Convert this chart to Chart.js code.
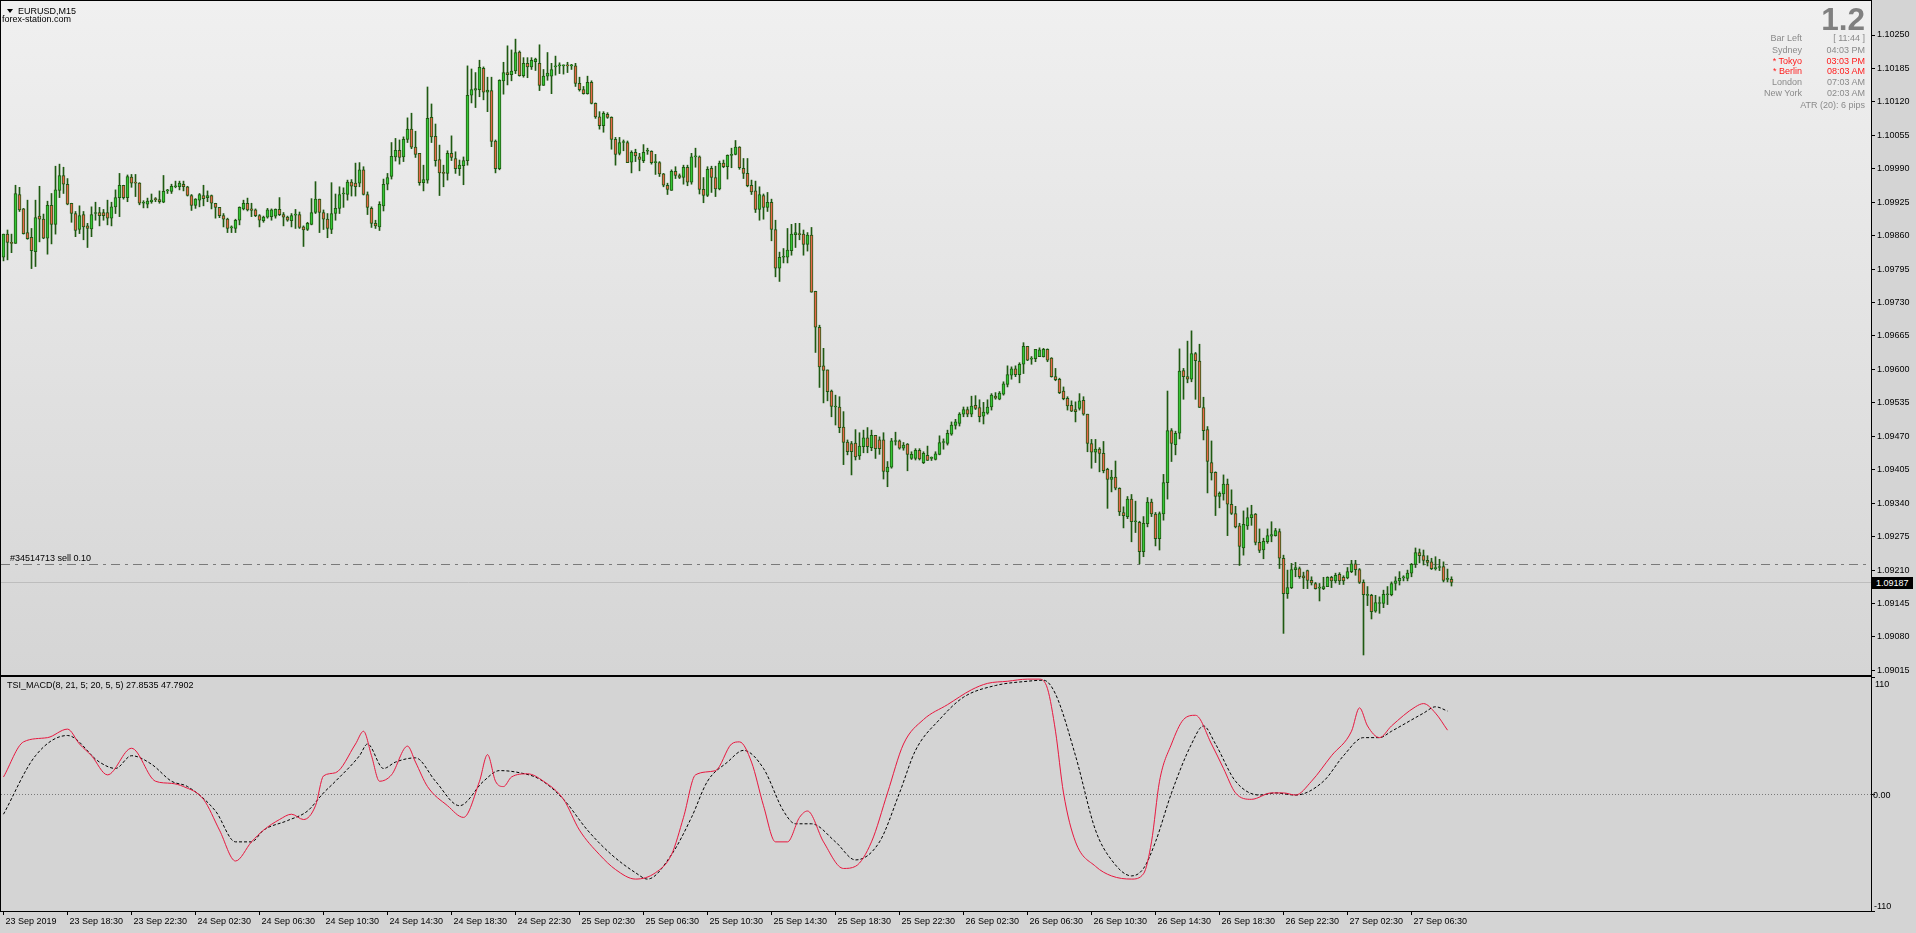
<!DOCTYPE html>
<html><head><meta charset="utf-8">
<script src="https://cdn.jsdelivr.net/npm/chart.js@4.4.1/dist/chart.umd.min.js"></script>
<style>
html,body{margin:0;padding:0;background:#d4d4d4;width:1916px;height:933px;overflow:hidden;font-family:"Liberation Sans",Arial,sans-serif;}
canvas{position:absolute;left:0;display:block;}
#main{top:0;}
#sub{top:676px;}
.t{position:absolute;font-size:9px;line-height:12px;height:12px;white-space:nowrap;color:#000;}
.r{text-align:right;}
.g{color:#8a8a8a;}
.red{color:#ff1a1a;}
</style></head><body>
<canvas id="main" width="1916" height="676" style="width:1916px;height:676px"></canvas>
<canvas id="sub" width="1916" height="257" style="width:1916px;height:257px"></canvas>

<div style="position:absolute;left:7px;top:9px;width:0;height:0;border-left:3px solid transparent;border-right:3px solid transparent;border-top:4px solid #000;"></div>
<div class="t" style="left:18px;top:5px;">EURUSD,M15</div>
<div class="t" style="left:2px;top:12.5px;">forex-station.com</div>
<div class="t" style="left:10px;top:552px;">#34514713 sell 0.10</div>
<div class="t" style="left:7px;top:679px;">TSI_MACD(8, 21, 5; 20, 5, 5) 27.8535 47.7902</div>

<div class="t r" style="right:51px;top:2.5px;font-size:31.5px;line-height:32px;height:32px;font-weight:bold;color:#808080;">1.2</div>
<div class="t r g" style="right:114px;top:32.3px;">Bar Left</div>
<div class="t r g" style="right:51px;top:32.3px;">[ 11:44 ]</div>
<div class="t r g" style="right:114px;top:43.5px;">Sydney</div>
<div class="t r g" style="right:51px;top:43.5px;">04:03 PM</div>
<div class="t r red" style="right:114px;top:54.7px;">* Tokyo</div>
<div class="t r red" style="right:51px;top:54.7px;">03:03 PM</div>
<div class="t r red" style="right:114px;top:65.3px;">* Berlin</div>
<div class="t r red" style="right:51px;top:65.3px;">08:03 AM</div>
<div class="t r g" style="right:114px;top:76.3px;">London</div>
<div class="t r g" style="right:51px;top:76.3px;">07:03 AM</div>
<div class="t r g" style="right:114px;top:87.3px;">New York</div>
<div class="t r g" style="right:51px;top:87.3px;">02:03 AM</div>
<div class="t r g" style="right:51px;top:99px;">ATR (20): 6 pips</div>

<div class="t" style="left:1872px;top:577px;width:37px;height:12px;background:#000;color:#fff;padding-left:4px;">1.09187</div>
<div class="t" style="left:1875px;top:678px;">110</div>
<div class="t" style="left:1873px;top:789px;">0.00</div>
<div class="t" style="left:1874px;top:900px;">-110</div>

<script>
// ---------------- DATA ----------------
const opens = [
1.09818,1.09863,1.09847,1.09845,1.09940,1.09912,1.09866,1.09857,1.09829,1.09898,
1.09892,1.09855,1.09919,1.09882,1.09948,1.09977,1.09960,1.09923,1.09903,1.09872,
1.09901,1.09879,1.09873,1.09903,1.09905,1.09905,1.09905,1.09894,1.09916,1.09934,
1.09958,1.09934,1.09974,1.09964,1.09962,1.09923,1.09921,1.09926,1.09931,1.09930,
1.09925,1.09947,1.09946,1.09955,1.09955,1.09960,1.09955,1.09938,1.09919,1.09929,
1.09938,1.09934,1.09938,1.09923,1.09915,1.09899,1.09892,1.09875,1.09874,1.09890,
1.09912,1.09923,1.09912,1.09910,1.09899,1.09889,1.09896,1.09897,1.09898,1.09911,
1.09901,1.09896,1.09889,1.09900,1.09901,1.09877,1.09872,1.09882,1.09905,1.09931,
1.09905,1.09892,1.09872,1.09903,1.09913,1.09941,1.09940,1.09964,1.09962,1.09962,
1.09988,1.09940,1.09913,1.09884,1.09877,1.09918,1.09960,1.09975,1.10013,1.10026,
1.10013,1.10047,1.10067,1.10032,1.10020,1.09963,1.09968,1.10090,1.10053,1.10008,
1.09983,1.09981,1.10020,1.10010,1.09990,1.09996,1.10006,1.10133,1.10143,1.10144,
1.10185,1.10139,1.10142,1.10044,1.09990,1.10161,1.10177,1.10173,1.10180,1.10217,
1.10171,1.10195,1.10188,1.10198,1.10195,1.10152,1.10170,1.10170,1.10188,1.10190,
1.10190,1.10191,1.10190,1.10190,1.10156,1.10144,1.10136,1.10158,1.10117,1.10091,
1.10074,1.10096,1.10090,1.10047,1.10020,1.10041,1.10041,1.10003,1.10022,1.10013,
1.10006,1.10024,1.10024,1.10002,1.10002,1.09980,1.09958,1.09948,1.09985,1.09977,
1.09973,1.09993,1.09964,1.10013,1.10013,1.09950,1.09938,1.09991,1.09973,1.09951,
1.10001,1.09994,1.10016,1.10018,1.10032,1.09991,1.09981,1.09958,1.09947,1.09911,
1.09938,1.09915,1.09925,1.09872,1.09797,1.09818,1.09818,1.09831,1.09862,1.09864,
1.09863,1.09843,1.09861,1.09752,1.09682,1.09607,1.09599,1.09558,1.09527,1.09527,
1.09488,1.09459,1.09456,1.09457,1.09432,1.09450,1.09467,1.09448,1.09472,1.09463,
1.09463,1.09401,1.09410,1.09460,1.09461,1.09447,1.09455,1.09427,1.09427,1.09443,
1.09419,1.09433,1.09427,1.09425,1.09435,1.09458,1.09456,1.09474,1.09491,1.09495,
1.09513,1.09522,1.09513,1.09530,1.09526,1.09509,1.09515,1.09527,1.09548,1.09542,
1.09552,1.09571,1.09589,1.09601,1.09590,1.09610,1.09645,1.09620,1.09621,1.09625,
1.09625,1.09639,1.09622,1.09586,1.09581,1.09558,1.09544,1.09530,1.09522,1.09524,
1.09540,1.09513,1.09456,1.09439,1.09445,1.09437,1.09406,1.09386,1.09391,1.09369,
1.09322,1.09314,1.09348,1.09304,1.09303,1.09246,1.09300,1.09342,1.09319,1.09271,
1.09319,1.09380,1.09481,1.09454,1.09476,1.09598,1.09586,1.09581,1.09631,1.09616,
1.09526,1.09483,1.09419,1.09400,1.09353,1.09358,1.09377,1.09338,1.09320,1.09296,
1.09253,1.09296,1.09312,1.09319,1.09264,1.09249,1.09265,1.09276,1.09277,1.09285,
1.09233,1.09164,1.09176,1.09211,1.09213,1.09199,1.09209,1.09190,1.09184,1.09175,
1.09174,1.09178,1.09196,1.09189,1.09202,1.09196,1.09195,1.09207,1.09222,1.09211,
1.09186,1.09161,1.09161,1.09130,1.09145,1.09145,1.09162,1.09162,1.09184,1.09189,
1.09195,1.09194,1.09204,1.09221,1.09244,1.09238,1.09229,1.09226,1.09213,1.09215,
1.09217,1.09192,1.09192];
const highs = [
1.09863,1.09871,1.09863,1.09958,1.09954,1.09913,1.09929,1.09874,1.09929,1.09956,
1.09902,1.09927,1.09942,1.09995,1.09999,1.09993,1.09971,1.09923,1.09907,1.09918,
1.09907,1.09884,1.09916,1.09925,1.09915,1.09911,1.09929,1.09925,1.09949,1.09981,
1.09958,1.09978,1.09979,1.09979,1.09963,1.09928,1.09933,1.09941,1.09934,1.09947,
1.09977,1.09950,1.09960,1.09966,1.09966,1.09966,1.09956,1.09940,1.09932,1.09942,
1.09958,1.09947,1.09939,1.09923,1.09915,1.09903,1.09894,1.09879,1.09892,1.09916,
1.09929,1.09933,1.09923,1.09912,1.09901,1.09898,1.09913,1.09912,1.09912,1.09934,
1.09905,1.09898,1.09903,1.09911,1.09906,1.09879,1.09886,1.09932,1.09965,1.09931,
1.09910,1.09903,1.09963,1.09941,1.09955,1.09953,1.09968,1.09969,1.10001,1.10002,
1.09994,1.09945,1.09916,1.09890,1.09926,1.09970,1.09981,1.10041,1.10049,1.10046,
1.10052,1.10089,1.10098,1.10063,1.10020,1.09997,1.10149,1.10116,1.10077,1.10036,
1.09997,1.10025,1.10054,1.10023,1.10007,1.10013,1.10190,1.10184,1.10177,1.10201,
1.10188,1.10168,1.10168,1.10046,1.10163,1.10197,1.10229,1.10221,1.10242,1.10219,
1.10206,1.10206,1.10206,1.10205,1.10231,1.10183,1.10216,1.10195,1.10209,1.10196,
1.10192,1.10197,1.10193,1.10195,1.10168,1.10150,1.10170,1.10161,1.10118,1.10101,
1.10101,1.10099,1.10091,1.10051,1.10051,1.10046,1.10044,1.10025,1.10028,1.10020,
1.10037,1.10030,1.10025,1.10018,1.10004,1.09981,1.09962,1.09988,1.09994,1.09980,
1.09997,1.09997,1.10020,1.10030,1.10015,1.09973,1.09994,1.09995,1.09995,1.10005,
1.10007,1.10017,1.10030,1.10045,1.10033,1.10010,1.10010,1.09968,1.09966,1.09955,
1.09941,1.09944,1.09931,1.09890,1.09828,1.09835,1.09874,1.09882,1.09884,1.09884,
1.09871,1.09866,1.09876,1.09752,1.09686,1.09641,1.09599,1.09560,1.09550,1.09547,
1.09518,1.09463,1.09460,1.09483,1.09477,1.09482,1.09487,1.09482,1.09472,1.09469,
1.09477,1.09421,1.09466,1.09478,1.09463,1.09458,1.09456,1.09440,1.09446,1.09446,
1.09440,1.09451,1.09430,1.09440,1.09471,1.09465,1.09482,1.09498,1.09503,1.09516,
1.09527,1.09527,1.09548,1.09549,1.09541,1.09536,1.09541,1.09553,1.09555,1.09557,
1.09576,1.09607,1.09605,1.09607,1.09613,1.09652,1.09645,1.09625,1.09639,1.09642,
1.09641,1.09640,1.09623,1.09602,1.09583,1.09566,1.09547,1.09539,1.09537,1.09553,
1.09547,1.09513,1.09464,1.09464,1.09448,1.09460,1.09408,1.09404,1.09422,1.09370,
1.09333,1.09353,1.09357,1.09344,1.09305,1.09314,1.09351,1.09348,1.09322,1.09323,
1.09396,1.09558,1.09485,1.09480,1.09640,1.09602,1.09655,1.09675,1.09633,1.09649,
1.09546,1.09489,1.09461,1.09401,1.09362,1.09395,1.09387,1.09366,1.09334,1.09301,
1.09325,1.09331,1.09336,1.09320,1.09290,1.09272,1.09290,1.09304,1.09291,1.09290,
1.09239,1.09210,1.09223,1.09225,1.09216,1.09206,1.09210,1.09197,1.09186,1.09184,
1.09196,1.09197,1.09198,1.09204,1.09205,1.09199,1.09215,1.09229,1.09229,1.09213,
1.09191,1.09178,1.09163,1.09161,1.09158,1.09171,1.09178,1.09187,1.09197,1.09207,
1.09199,1.09210,1.09223,1.09253,1.09251,1.09249,1.09238,1.09233,1.09236,1.09231,
1.09226,1.09212,1.09197];
const lows = [
1.09811,1.09813,1.09827,1.09845,1.09907,1.09863,1.09853,1.09796,1.09800,1.09848,
1.09854,1.09824,1.09844,1.09863,1.09934,1.09942,1.09920,1.09886,1.09858,1.09864,
1.09852,1.09837,1.09858,1.09890,1.09879,1.09890,1.09881,1.09879,1.09903,1.09897,
1.09931,1.09926,1.09954,1.09936,1.09920,1.09914,1.09914,1.09923,1.09926,1.09923,
1.09924,1.09942,1.09942,1.09953,1.09949,1.09947,1.09937,1.09909,1.09913,1.09916,
1.09918,1.09926,1.09912,1.09894,1.09895,1.09877,1.09866,1.09866,1.09866,1.09881,
1.09910,1.09908,1.09897,1.09897,1.09877,1.09886,1.09894,1.09890,1.09894,1.09899,
1.09879,1.09888,1.09877,1.09874,1.09874,1.09839,1.09870,1.09881,1.09903,1.09866,
1.09872,1.09856,1.09864,1.09890,1.09903,1.09915,1.09929,1.09937,1.09937,1.09955,
1.09939,1.09901,1.09876,1.09874,1.09870,1.09908,1.09949,1.09970,1.10005,1.09999,
1.10004,1.10041,1.10029,1.10012,1.09958,1.09947,1.09962,1.10041,1.09995,1.09938,
1.09955,1.09968,1.10006,1.09981,1.09977,1.09959,1.09997,1.10118,1.10109,1.10130,
1.10124,1.10101,1.10033,1.09982,1.09988,1.10135,1.10153,1.10161,1.10175,1.10170,
1.10168,1.10167,1.10183,1.10181,1.10142,1.10152,1.10162,1.10136,1.10172,1.10175,
1.10174,1.10177,1.10183,1.10150,1.10141,1.10135,1.10135,1.10116,1.10088,1.10067,
1.10061,1.10088,1.10028,1.09997,1.10017,1.10025,1.10002,1.09982,1.10004,1.09986,
1.10002,1.10018,1.09999,1.09979,1.09975,1.09955,1.09940,1.09948,1.09971,1.09971,
1.09960,1.09957,1.09960,1.09993,1.09941,1.09924,1.09936,1.09944,1.09936,1.09949,
1.09992,1.09970,1.09992,1.10017,1.09989,1.09971,1.09955,1.09940,1.09905,1.09890,
1.09892,1.09907,1.09850,1.09780,1.09771,1.09807,1.09807,1.09822,1.09837,1.09852,
1.09822,1.09830,1.09750,1.09633,1.09565,1.09535,1.09539,1.09508,1.09492,1.09477,
1.09415,1.09434,1.09395,1.09424,1.09425,1.09438,1.09438,1.09442,1.09427,1.09435,
1.09387,1.09372,1.09408,1.09453,1.09445,1.09443,1.09403,1.09425,1.09424,1.09424,
1.09417,1.09423,1.09423,1.09424,1.09434,1.09445,1.09453,1.09472,1.09484,1.09490,
1.09508,1.09508,1.09508,1.09522,1.09498,1.09494,1.09513,1.09521,1.09542,1.09541,
1.09550,1.09566,1.09581,1.09586,1.09574,1.09592,1.09617,1.09610,1.09615,1.09625,
1.09624,1.09615,1.09585,1.09578,1.09553,1.09541,1.09521,1.09518,1.09498,1.09521,
1.09511,1.09440,1.09408,1.09419,1.09401,1.09399,1.09330,1.09362,1.09366,1.09316,
1.09292,1.09310,1.09265,1.09283,1.09222,1.09236,1.09294,1.09314,1.09257,1.09249,
1.09307,1.09348,1.09421,1.09434,1.09465,1.09542,1.09574,1.09576,1.09542,1.09526,
1.09463,1.09360,1.09385,1.09316,1.09331,1.09346,1.09277,1.09318,1.09292,1.09219,
1.09239,1.09289,1.09297,1.09259,1.09244,1.09232,1.09262,1.09265,1.09276,1.09213,
1.09087,1.09155,1.09174,1.09197,1.09194,1.09174,1.09174,1.09181,1.09173,1.09150,
1.09172,1.09178,1.09176,1.09185,1.09182,1.09182,1.09193,1.09205,1.09200,1.09184,
1.09045,1.09141,1.09115,1.09128,1.09126,1.09137,1.09143,1.09160,1.09171,1.09181,
1.09189,1.09189,1.09197,1.09215,1.09224,1.09220,1.09218,1.09211,1.09210,1.09209,
1.09187,1.09187,1.09179];
const closes = [
1.09863,1.09847,1.09845,1.09942,1.09910,1.09864,1.09854,1.09831,1.09895,1.09892,
1.09855,1.09919,1.09882,1.09949,1.09977,1.09960,1.09921,1.09903,1.09870,1.09899,
1.09877,1.09874,1.09901,1.09903,1.09899,1.09899,1.09894,1.09916,1.09934,1.09958,
1.09934,1.09975,1.09962,1.09962,1.09923,1.09923,1.09927,1.09929,1.09930,1.09926,
1.09946,1.09948,1.09956,1.09955,1.09962,1.09955,1.09938,1.09919,1.09931,1.09940,
1.09932,1.09938,1.09923,1.09915,1.09899,1.09892,1.09874,1.09875,1.09890,1.09915,
1.09923,1.09910,1.09909,1.09899,1.09890,1.09896,1.09910,1.09910,1.09911,1.09901,
1.09896,1.09890,1.09899,1.09901,1.09876,1.09871,1.09884,1.09905,1.09931,1.09905,
1.09892,1.09874,1.09903,1.09913,1.09940,1.09941,1.09964,1.09956,1.09955,1.09988,
1.09940,1.09915,1.09884,1.09879,1.09921,1.09960,1.09973,1.10014,1.10026,1.10012,
1.10047,1.10067,1.10032,1.10018,1.09963,1.09969,1.10088,1.10052,1.10006,1.09982,
1.09981,1.10020,1.10012,1.09990,1.09997,1.10006,1.10133,1.10144,1.10146,1.10187,
1.10139,1.10143,1.10043,1.09990,1.10162,1.10177,1.10173,1.10180,1.10216,1.10171,
1.10195,1.10188,1.10201,1.10203,1.10152,1.10170,1.10176,1.10183,1.10189,1.10190,
1.10191,1.10190,1.10190,1.10156,1.10144,1.10136,1.10158,1.10117,1.10091,1.10074,
1.10098,1.10090,1.10047,1.10018,1.10041,1.10041,1.10002,1.10022,1.10015,1.10008,
1.10022,1.10024,1.10002,1.10002,1.09980,1.09958,1.09950,1.09985,1.09977,1.09973,
1.09993,1.09964,1.10013,1.10013,1.09950,1.09938,1.09989,1.09973,1.09951,1.10001,
1.09994,1.10016,1.10016,1.10032,1.09992,1.09981,1.09957,1.09945,1.09911,1.09940,
1.09915,1.09925,1.09872,1.09797,1.09818,1.09818,1.09832,1.09863,1.09866,1.09862,
1.09843,1.09861,1.09750,1.09682,1.09605,1.09598,1.09557,1.09528,1.09527,1.09487,
1.09458,1.09440,1.09440,1.09430,1.09451,1.09467,1.09450,1.09472,1.09446,1.09446,
1.09402,1.09410,1.09461,1.09460,1.09447,1.09453,1.09435,1.09435,1.09443,1.09426,
1.09437,1.09423,1.09427,1.09436,1.09458,1.09458,1.09476,1.09492,1.09498,1.09513,
1.09522,1.09513,1.09529,1.09524,1.09508,1.09517,1.09527,1.09550,1.09544,1.09554,
1.09572,1.09590,1.09601,1.09590,1.09610,1.09645,1.09618,1.09620,1.09639,1.09638,
1.09639,1.09618,1.09586,1.09580,1.09555,1.09543,1.09529,1.09519,1.09518,1.09539,
1.09513,1.09456,1.09439,1.09445,1.09437,1.09403,1.09386,1.09391,1.09369,1.09323,
1.09316,1.09348,1.09304,1.09304,1.09246,1.09301,1.09342,1.09319,1.09271,1.09320,
1.09380,1.09481,1.09456,1.09476,1.09597,1.09586,1.09581,1.09631,1.09617,1.09526,
1.09481,1.09421,1.09399,1.09353,1.09359,1.09377,1.09338,1.09320,1.09294,1.09256,
1.09299,1.09312,1.09318,1.09264,1.09248,1.09266,1.09277,1.09279,1.09287,1.09233,
1.09164,1.09176,1.09211,1.09215,1.09197,1.09195,1.09190,1.09185,1.09174,1.09175,
1.09178,1.09196,1.09189,1.09200,1.09189,1.09189,1.09207,1.09222,1.09211,1.09186,
1.09162,1.09161,1.09129,1.09147,1.09147,1.09163,1.09162,1.09184,1.09189,1.09194,
1.09195,1.09204,1.09221,1.09244,1.09238,1.09229,1.09225,1.09213,1.09213,1.09215,
1.09190,1.09192,1.09186];

const priceTicks = [1.09015,1.09080,1.09145,1.09210,1.09275,1.09340,1.09405,1.09470,1.09535,1.09600,
1.09665,1.09730,1.09795,1.09860,1.09925,1.09990,1.10055,1.10120,1.10185,1.10250];
const bidPrice = 1.09187;
const orderPrice = 1.09221;

const timeTickBars = [0,16,32,48,64,80,96,112,128,144,160,176,192,208,224,240,256,272,288,304,320,336,352];
const timeLabels = ["23 Sep 2019","23 Sep 18:30","23 Sep 22:30","24 Sep 02:30","24 Sep 06:30","24 Sep 10:30",
"24 Sep 14:30","24 Sep 18:30","24 Sep 22:30","25 Sep 02:30","25 Sep 06:30","25 Sep 10:30","25 Sep 14:30",
"25 Sep 18:30","25 Sep 22:30","26 Sep 02:30","26 Sep 06:30","26 Sep 10:30","26 Sep 14:30","26 Sep 18:30",
"26 Sep 22:30","27 Sep 02:30","27 Sep 06:30"];

// TSI main line (red), read at bar positions
const tsiBars = [0,5,11,16,19,22,26,32,38,42,45,50,54,58,62,65,69,72,75,78,80,83,88,90,92,94,97,101,103,106,111,115,119,121,123,125,127,131,135,140,144,149,153,158,163,167,170,173,178,182,184,187,190,193,196,199,201,205,210,213,217,221,225,230,236,242,246,251,256,259,261,263,265,268,273,277,282,285,287,289,292,295,298,302,305,308,312,317,320,323,327,332,337,339,341,344,347,353,355,358,361];
const tsiMain = [16,49,53,61,47,36,18,43,12,10,7,-5,-34,-63,-45,-34,-24,-19,-24,-11,17,20,47,59,36,12,18,45,30,7,-11,-22,12,37,12,7,16,19,12,-5,-34,-57,-71,-80,-74,-57,-22,18,22,47,49,30,-11,-45,-45,-22,-16,-45,-70,-68,-45,1,47,70,84,98,104,106,108,108,99,59,1,-45,-68,-77,-80,-75,-45,12,47,70,74,47,24,1,-5,1,1,-1,12,36,59,81,64,53,64,82,85,76,60];
// TSI signal line (black dashed)
const sigBars = [0,8,16,24,28,32,37,42,46,53,58,62,65,71,76,80,83,89,91,95,98,103,108,114,120,124,129,134,140,146,152,158,161,167,172,176,181,185,190,195,198,202,208,213,219,224,228,234,240,248,256,260,263,268,273,277,282,285,288,292,297,300,303,308,314,318,323,330,335,340,344,347,355,358,361];
const tsiSignal = [-19,36,55,30,24,36,28,12,7,-16,-45,-45,-34,-25,-16,1,12,36,47,24,30,34,12,-11,12,22,20,14,-5,-34,-57,-74,-80,-57,-22,12,30,41,24,-16,-28,-28,-45,-62,-45,1,41,70,91,102,106,107,94,36,-34,-62,-77,-70,-45,1,47,64,47,12,-1,1,-1,12,36,53,53,59,76,82,78];
const subTicks = [-110,0,110];

// ---------------- STYLE ----------------
const FONT = '"Liberation Sans", Arial, sans-serif';
const OUTLINE = '#1f5a12';
const BULL = '#36c636';
const BEAR = '#e8684a';
const X_MIN = -0.625, X_MAX = -0.625 + 1870/4;

const bodyData = [], wickData = [], fills = [];
for (let i = 0; i < closes.length; i++) {
  bodyData.push({x: i, y: [opens[i], closes[i]]});
  wickData.push({x: i, y: [lows[i], highs[i]]});
  fills.push(closes[i] >= opens[i] ? BULL : BEAR);
}

const mainBg = {
  id: 'mainBg',
  beforeDraw(chart) {
    const {ctx, chartArea: a} = chart;
    ctx.save();
    ctx.fillStyle = '#d4d4d4';
    ctx.fillRect(0, 0, chart.width, chart.height);
    const g = ctx.createLinearGradient(0, a.top, 0, a.bottom);
    g.addColorStop(0, '#f0f0f0');
    g.addColorStop(1, '#d5d5d5');
    ctx.fillStyle = g;
    ctx.fillRect(a.left, a.top, a.right - a.left, a.bottom - a.top);
    ctx.restore();
  },
  beforeDatasetsDraw(chart) {
    const {ctx, chartArea: a, scales: {y}} = chart;
    ctx.save();
    ctx.lineWidth = 1;
    let yy = Math.round(y.getPixelForValue(bidPrice)) + 0.5;
    ctx.strokeStyle = '#bdbdbd';
    ctx.beginPath(); ctx.moveTo(a.left, yy); ctx.lineTo(a.right, yy); ctx.stroke();
    yy = Math.round(y.getPixelForValue(orderPrice)) + 0.5;
    ctx.strokeStyle = '#7a7a7a';
    ctx.setLineDash([9, 5, 3, 5]);
    ctx.beginPath(); ctx.moveTo(a.left, yy); ctx.lineTo(a.right, yy); ctx.stroke();
    ctx.restore();
  },
  afterDraw(chart) {
    const {ctx, chartArea: a} = chart;
    ctx.save();
    ctx.strokeStyle = '#000'; ctx.lineWidth = 1;
    ctx.strokeRect(a.left - 0.5, a.top - 0.5, a.right - a.left + 1, a.bottom - a.top + 1);
    ctx.restore();
  }
};

new Chart(document.getElementById('main'), {
  type: 'bar',
  data: { datasets: [
    { data: wickData, backgroundColor: OUTLINE, borderWidth: 0, barThickness: 1, grouped: false, order: 2, minBarLength: 1 },
    { data: bodyData, backgroundColor: fills, borderColor: OUTLINE, borderWidth: 1, borderSkipped: false, barThickness: 3, grouped: false, order: 1, minBarLength: 1 }
  ]},
  options: {
    responsive: false, animation: false, devicePixelRatio: 1,
    layout: { padding: { left: 1, top: 1, right: 0, bottom: 1 } },
    plugins: { legend: { display: false }, tooltip: { enabled: false } },
    events: [],
    scales: {
      x: { type: 'linear', min: X_MIN, max: X_MAX, offset: false,
           ticks: { display: false }, grid: { display: false, drawTicks: false }, border: { display: false },
           afterFit(s) { s.height = 0; s.paddingLeft = 0; s.paddingRight = 0; } },
      y: {
        position: 'right', min: 1.090061, max: 1.103161,
        afterFit(s) { s.width = 45; s.paddingTop = 0; s.paddingBottom = 0; },
        afterBuildTicks(s) { s.ticks = priceTicks.map(v => ({ value: v })); },
        ticks: { callback: v => Number(v).toFixed(5), font: { family: FONT, size: 9 }, color: '#000', padding: 2, autoSkip: false },
        grid: { drawOnChartArea: false, tickLength: 4, tickColor: '#000', color: '#000' },
        border: { display: true, color: '#000' }
      }
    }
  },
  plugins: [mainBg]
});

const subBg = {
  id: 'subBg',
  beforeDraw(chart) {
    const {ctx} = chart;
    ctx.save();
    ctx.fillStyle = '#d4d4d4';
    ctx.fillRect(0, 0, chart.width, chart.height);
    ctx.restore();
  },
  beforeDatasetsDraw(chart) {
    const {ctx, chartArea: a, scales: {y}} = chart;
    ctx.save();
    const yy = Math.round(y.getPixelForValue(0)) + 0.5;
    ctx.strokeStyle = '#7a7a7a'; ctx.lineWidth = 1; ctx.setLineDash([1, 2]);
    ctx.beginPath(); ctx.moveTo(a.left, yy); ctx.lineTo(a.right + 3, yy); ctx.stroke();
    ctx.restore();
  },
  afterDraw(chart) {
    const {ctx, chartArea: a} = chart;
    ctx.save();
    ctx.strokeStyle = '#000'; ctx.lineWidth = 1;
    ctx.strokeRect(a.left - 0.5, a.top - 0.5, a.right - a.left + 1, a.bottom - a.top + 1);
    ctx.restore();
  }
};

new Chart(document.getElementById('sub'), {
  type: 'line',
  data: { datasets: [
    { data: tsiBars.map((b, i) => ({ x: b, y: tsiMain[i] })), borderColor: '#e8173f', borderWidth: 1, pointRadius: 0, cubicInterpolationMode: 'monotone', fill: false, order: 1 },
    { data: sigBars.map((b, i) => ({ x: b, y: tsiSignal[i] })), borderColor: '#000', borderWidth: 1, borderDash: [3, 2], pointRadius: 0, cubicInterpolationMode: 'monotone', fill: false, order: 2 }
  ]},
  options: {
    responsive: false, animation: false, devicePixelRatio: 1,
    layout: { padding: { left: 1, top: 1, right: 0, bottom: 0 } },
    plugins: { legend: { display: false }, tooltip: { enabled: false } },
    events: [],
    scales: {
      x: {
        type: 'linear', min: X_MIN, max: X_MAX,
        afterFit(s) { s.height = 22; s.paddingLeft = 0; s.paddingRight = 0; },
        afterBuildTicks(s) { s.ticks = timeTickBars.map(v => ({ value: v })); },
        ticks: { callback: (v) => { const k = timeTickBars.indexOf(v); return k >= 0 ? timeLabels[k] : ''; },
                 align: 'start', labelOffset: 2, maxRotation: 0, autoSkip: false, font: { family: FONT, size: 9 }, color: '#000', padding: 1 },
        grid: { drawOnChartArea: false, tickLength: 4, tickColor: '#000', color: '#000' },
        border: { display: true, color: '#000' }
      },
      y: {
        position: 'right', min: -110, max: 110,
        afterFit(s) { s.width = 45; s.paddingTop = 0; s.paddingBottom = 0; },
        afterBuildTicks(s) { s.ticks = subTicks.map(v => ({ value: v })); },
        ticks: { callback: () => '', font: { family: FONT, size: 9 }, padding: 2, autoSkip: false },
        grid: { drawOnChartArea: false, tickLength: 4, tickColor: '#000', color: '#000' },
        border: { display: true, color: '#000' }
      }
    }
  },
  plugins: [subBg]
});
</script>
</body></html>
